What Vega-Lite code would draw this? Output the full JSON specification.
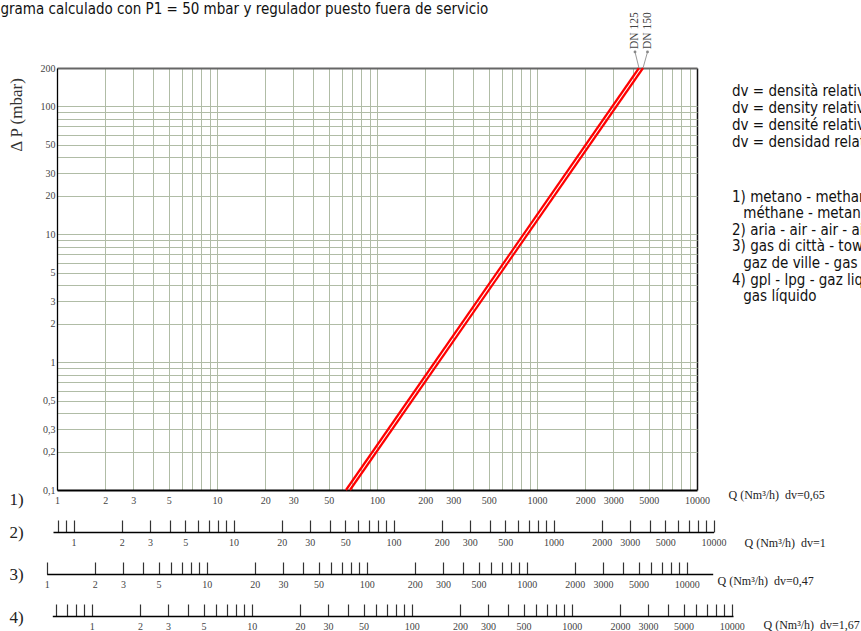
{
  "$schema": "https://vega.github.io/schema/vega-lite/v6.json",
  "width": 640,
  "height": 422,
  "autosize": "none",
  "padding": {"left": 57, "top": 68, "right": 164, "bottom": 141},
  "background": "white",
  "config": {
    "view": {"stroke": null},
    "axis": {"labelFont": "Liberation Serif", "titleFont": "Liberation Serif"}
  },
  "title": {
    "text": "Diagrama calculado con P1 = 50 mbar y regulador puesto fuera de servicio",
    "anchor": "start",
    "frame": "group",
    "dx": -79,
    "offset": -17,
    "baseline": "alphabetic",
    "font": "DejaVu Sans Condensed",
    "fontSize": 15,
    "fontWeight": "normal",
    "color": "#111"
  },
  "layer": [
    {
      "layer": [
        {
          "data": {"values": [
            {"dn": "DN 125", "q": 64, "dp": 0.1},
            {"dn": "DN 125", "q": 4340, "dp": 200},
            {"dn": "DN 150", "q": 67.8, "dp": 0.1},
            {"dn": "DN 150", "q": 4600, "dp": 200}
          ]},
          "mark": {"type": "line", "color": "#ff0000", "strokeWidth": 2.2},
          "encoding": {
            "x": {
              "field": "q", "type": "quantitative",
              "scale": {"type": "log", "domain": [1, 10000], "nice": false},
              "axis": {
                "orient": "bottom",
                "values": [1,2,3,4,5,6,7,8,9,10,20,30,40,50,60,70,80,90,100,200,300,400,500,600,700,800,900,1000,2000,3000,4000,5000,6000,7000,8000,9000,10000],
                "labelExpr": "indexof([1,2,3,5,10,20,30,50,100,200,300,500,1000,2000,3000,5000,10000], datum.value) >= 0 ? format(datum.value, 'd') : ''",
                "grid": true,
                "gridColor": {"condition": {"test": "datum.value === 10000", "value": "#111111"}, "value": "#b0bca6"},
                "gridWidth": {"condition": {"test": "datum.value === 10000", "value": 1.5}, "value": 1},
                "ticks": false,
                "domain": true, "domainColor": "#000000", "domainWidth": 2,
                "labelPadding": 5, "labelFontSize": 10, "labelColor": "#444444",
                "labelOverlap": false, "labelFlush": false, "labelBound": false,
                "title": "Q (Nm³/h)\u00a0 dv=0,65",
                "titleX": 671, "titleY": 4, "titleAlign": "left", "titleBaseline": "middle",
                "titleFontSize": 12, "titleFontWeight": "normal", "titleColor": "#222222"
              }
            },
            "y": {
              "field": "dp", "type": "quantitative",
              "scale": {"type": "log", "domain": [0.1, 200], "nice": false},
              "axis": {
                "orient": "left",
                "values": [0.1,0.2,0.3,0.4,0.5,0.6,0.7,0.8,0.9,1,2,3,4,5,6,7,8,9,10,20,30,40,50,60,70,80,90,100,200],
                "labelExpr": "indexof([0.1,0.2,0.3,0.5,1,2,3,5,10,20,30,50,100,200], datum.value) >= 0 ? replace(format(datum.value, '~g'), '.', ',') : ''",
                "grid": true,
                "gridColor": {"condition": {"test": "datum.value === 200", "value": "#666666"}, "value": "#b0bca6"},
                "gridWidth": {"condition": {"test": "datum.value === 200", "value": 2}, "value": 1},
                "ticks": false,
                "domain": true, "domainColor": "#000000", "domainWidth": 1.3,
                "labelPadding": 2, "labelFontSize": 10, "labelColor": "#444444",
                "labelOverlap": false, "labelFlush": false, "labelBound": false,
                "title": "Δ P (mbar)",
                "titleX": -41, "titleY": 46.5, "titleAngle": 270, "titleAlign": "center", "titleBaseline": "middle",
                "titleFontSize": 17, "titleFontWeight": "normal", "titleColor": "#333333"
              }
            },
            "detail": {"field": "dn"}
          }
        },
        {
          "data": {"values": [
            {"dn": "DN 125", "q_end": 4340, "q_lab": 4098},
            {"dn": "DN 150", "q_end": 4600, "q_lab": 4905}
          ]},
          "mark": {"type": "rule", "color": "#999999", "strokeWidth": 1},
          "encoding": {
            "x": {"field": "q_lab", "type": "quantitative"},
            "x2": {"field": "q_end"},
            "y": {"datum": 267, "type": "quantitative"},
            "y2": {"datum": 200}
          }
        },
        {
          "data": {"values": [
            {"dn": "DN 125", "q_end": 4340, "q_lab": 4098},
            {"dn": "DN 150", "q_end": 4600, "q_lab": 4905}
          ]},
          "mark": {"type": "circle", "size": 8, "color": "#888888", "opacity": 1},
          "encoding": {
            "x": {"field": "q_lab", "type": "quantitative"},
            "y": {"datum": 267, "type": "quantitative"}
          }
        },
        {
          "data": {"values": [
            {"dn": "DN 125", "q_end": 4340, "q_lab": 4098},
            {"dn": "DN 150", "q_end": 4600, "q_lab": 4905}
          ]},
          "mark": {"type": "text", "angle": 270, "align": "left", "baseline": "middle", "dx": 3, "font": "Liberation Serif", "fontSize": 11.5, "color": "#444444"},
          "encoding": {
            "x": {"field": "q_lab", "type": "quantitative"},
            "y": {"datum": 267, "type": "quantitative"},
            "text": {"field": "dn"}
          }
        },
        {
          "data": {"values": [
            {"t": "dv = densità relativa\ndv = density relative\ndv = densité relative\ndv = densidad relativa"}
          ]},
          "mark": {"type": "text", "align": "left", "baseline": "alphabetic", "lineBreak": "\n", "lineHeight": 17, "font": "DejaVu Sans Condensed", "fontSize": 15, "color": "#111111"},
          "encoding": {
            "x": {"datum": 16550, "type": "quantitative"},
            "y": {"datum": 119.7, "type": "quantitative"},
            "text": {"field": "t"}
          }
        },
        {
          "data": {"values": [
            {"t": "1) metano - methane -\n\u200b\u00a0\u00a0\u2009méthane - metano\n2) aria - air - air - aire\n3) gas di città - town gas -\n\u200b\u00a0\u00a0\u2009gaz de ville - gas ciudad\n4) gpl - lpg - gaz liquide -\n\u200b\u00a0\u00a0\u2009gas líquido"}
          ]},
          "mark": {"type": "text", "align": "left", "baseline": "alphabetic", "lineBreak": "\n", "lineHeight": 16.6, "font": "DejaVu Sans Condensed", "fontSize": 15, "color": "#111111"},
          "encoding": {
            "x": {"datum": 16550, "type": "quantitative"},
            "y": {"datum": 18.05, "type": "quantitative"},
            "text": {"field": "t"}
          }
        }
      ]
    },
    {
      "data": {"values": [{"q": 1}]},
      "mark": {"type": "point", "opacity": 0},
      "encoding": {
        "x": {
          "field": "q", "type": "quantitative",
          "scale": {"type": "log", "domain": [0.744, 10000], "range": [-4, 656.5], "nice": false},
          "axis": {
            "orient": "bottom", "offset": 42,
            "values": [0.8,0.9,1,2,3,4,5,6,7,8,9,10,20,30,40,50,60,70,80,90,100,200,300,400,500,600,700,800,900,1000,2000,3000,4000,5000,6000,7000,8000,9000,10000],
            "labelExpr": "indexof([1,2,3,5,10,20,30,50,100,200,300,500,1000,2000,3000,5000,10000], datum.value) >= 0 ? format(datum.value, 'd') : ''",
            "grid": false, "ticks": true, "tickSize": -12, "tickColor": "#333333", "tickWidth": 1.2,
            "domain": true, "domainColor": "#000000", "domainWidth": 1.3,
            "labelPadding": 17, "labelFontSize": 10, "labelColor": "#444444",
            "labelOverlap": false, "labelFlush": false, "labelBound": false,
            "title": "Q (Nm³/h)\u00a0 dv=1",
            "titleX": 687, "titleY": 10, "titleAlign": "left", "titleBaseline": "middle",
            "titleFontSize": 12, "titleFontWeight": "normal", "titleColor": "#222222"
          }
        }
      }
    },
    {
      "data": {"values": [{"q": 1}]},
      "mark": {"type": "point", "opacity": 0},
      "encoding": {
        "x": {
          "field": "q", "type": "quantitative",
          "scale": {"type": "log", "domain": [1, 14540], "range": [-10.3, 655.7], "nice": false},
          "axis": {
            "orient": "bottom", "offset": 84,
            "values": [1,2,3,4,5,6,7,8,9,10,20,30,40,50,60,70,80,90,100,200,300,400,500,600,700,800,900,1000,2000,3000,4000,5000,6000,7000,8000,9000,10000],
            "labelExpr": "indexof([1,2,3,5,10,20,30,50,100,200,300,500,1000,2000,3000,5000,10000], datum.value) >= 0 ? format(datum.value, 'd') : ''",
            "grid": false, "ticks": true, "tickSize": -12, "tickColor": "#333333", "tickWidth": 1.2,
            "domain": true, "domainColor": "#000000", "domainWidth": 1.3,
            "labelPadding": 17, "labelFontSize": 10, "labelColor": "#444444",
            "labelOverlap": false, "labelFlush": false, "labelBound": false,
            "title": "Q (Nm³/h)\u00a0 dv=0,47",
            "titleX": 660, "titleY": 6, "titleAlign": "left", "titleBaseline": "middle",
            "titleFontSize": 12, "titleFontWeight": "normal", "titleColor": "#222222"
          }
        }
      }
    },
    {
      "data": {"values": [{"q": 1}]},
      "mark": {"type": "point", "opacity": 0},
      "encoding": {
        "x": {
          "field": "q", "type": "quantitative",
          "scale": {"type": "log", "domain": [0.567, 10185], "range": [-4.7, 676], "nice": false},
          "axis": {
            "orient": "bottom", "offset": 126,
            "values": [0.6,0.7,0.8,0.9,1,2,3,4,5,6,7,8,9,10,20,30,40,50,60,70,80,90,100,200,300,400,500,600,700,800,900,1000,2000,3000,4000,5000,6000,7000,8000,9000,10000],
            "labelExpr": "indexof([1,2,3,5,10,20,30,50,100,200,300,500,1000,2000,3000,5000,10000], datum.value) >= 0 ? format(datum.value, 'd') : ''",
            "grid": false, "ticks": true, "tickSize": -12, "tickColor": "#333333", "tickWidth": 1.2,
            "domain": true, "domainColor": "#000000", "domainWidth": 1.3,
            "labelPadding": 17, "labelFontSize": 10, "labelColor": "#444444",
            "labelOverlap": false, "labelFlush": false, "labelBound": false,
            "title": "Q (Nm³/h)\u00a0 dv=1,67",
            "titleX": 706, "titleY": 8, "titleAlign": "left", "titleBaseline": "middle",
            "titleFontSize": 12, "titleFontWeight": "normal", "titleColor": "#222222"
          }
        }
      }
    },
    {
      "data": {"values": [{"q": 1}]},
      "mark": {"type": "point", "opacity": 0},
      "encoding": {
        "x": {
          "field": "q", "type": "quantitative",
          "scale": {"type": "log", "domain": [1, 10], "nice": false},
          "axis": {"orient": "bottom", "offset": 0, "domain": false, "ticks": false, "labels": false, "grid": false,
            "title": "1)", "titleX": -41, "titleY": 9, "titleAlign": "center", "titleBaseline": "middle",
            "titleFontSize": 17, "titleFontWeight": "normal", "titleColor": "#222222"}
        }
      }
    },
    {
      "data": {"values": [{"q": 1}]},
      "mark": {"type": "point", "opacity": 0},
      "encoding": {
        "x": {
          "field": "q", "type": "quantitative",
          "scale": {"type": "log", "domain": [1, 10], "nice": false},
          "axis": {"orient": "bottom", "offset": 42, "domain": false, "ticks": false, "labels": false, "grid": false,
            "title": "2)", "titleX": -41, "titleY": 0, "titleAlign": "center", "titleBaseline": "middle",
            "titleFontSize": 17, "titleFontWeight": "normal", "titleColor": "#222222"}
        }
      }
    },
    {
      "data": {"values": [{"q": 1}]},
      "mark": {"type": "point", "opacity": 0},
      "encoding": {
        "x": {
          "field": "q", "type": "quantitative",
          "scale": {"type": "log", "domain": [1, 10], "nice": false},
          "axis": {"orient": "bottom", "offset": 84, "domain": false, "ticks": false, "labels": false, "grid": false,
            "title": "3)", "titleX": -41, "titleY": 0, "titleAlign": "center", "titleBaseline": "middle",
            "titleFontSize": 17, "titleFontWeight": "normal", "titleColor": "#222222"}
        }
      }
    },
    {
      "data": {"values": [{"q": 1}]},
      "mark": {"type": "point", "opacity": 0},
      "encoding": {
        "x": {
          "field": "q", "type": "quantitative",
          "scale": {"type": "log", "domain": [1, 10], "nice": false},
          "axis": {"orient": "bottom", "offset": 126, "domain": false, "ticks": false, "labels": false, "grid": false,
            "title": "4)", "titleX": -41, "titleY": 1, "titleAlign": "center", "titleBaseline": "middle",
            "titleFontSize": 17, "titleFontWeight": "normal", "titleColor": "#222222"}
        }
      }
    }
  ],
  "resolve": {"scale": {"x": "independent"}}
}
